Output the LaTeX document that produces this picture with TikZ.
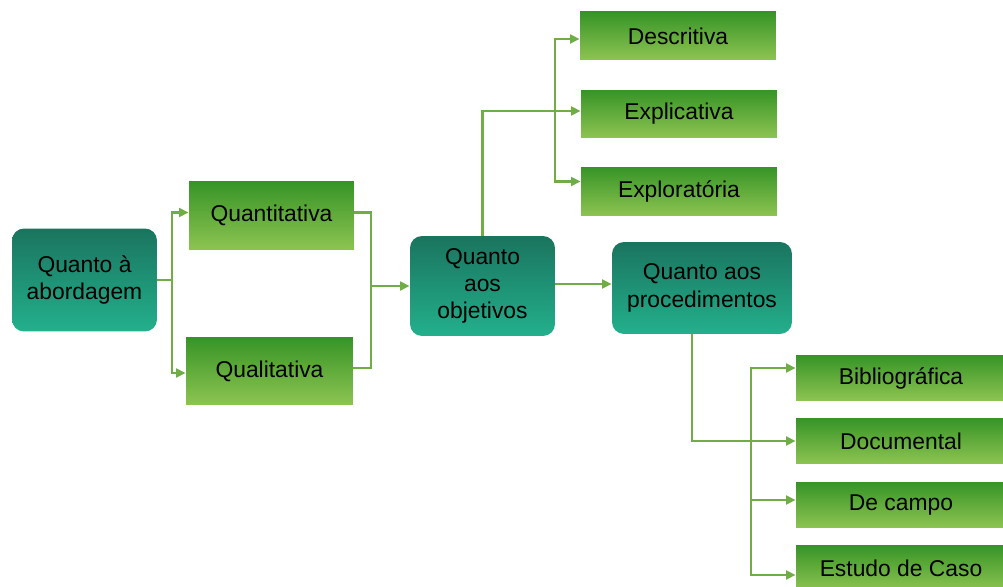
\documentclass[tikz,border=0pt]{standalone}
\usepackage{fontspec}
\setmainfont{Liberation Sans}
\usepackage{xcolor}
\usetikzlibrary{arrows.meta,positioning,calc}

\definecolor{tealtop}{RGB}{26,116,94}
\definecolor{tealbot}{RGB}{35,176,140}
\definecolor{greentop}{RGB}{54,148,38}
\definecolor{greenbot}{RGB}{142,196,82}
\definecolor{linkgreen}{RGB}{112,173,71}

\tikzset{
    groupbox/.style={rounded corners=0.24cm, top color=tealtop, bottom color=tealbot,
        align=center, inner sep=2pt, font=\fontsize{13}{15.5}\selectfont},
    itembox/.style={top color=greentop, bottom color=greenbot,
        align=center, font=\fontsize{13}{15.5}\selectfont},
    link/.style={draw=linkgreen, line width=1.6pt},
    linkarrow/.style={link, -{Triangle[length=5.5pt,width=5pt]}}
}

\begin{document}
\begin{tikzpicture}[x=0.02cm,y=-0.02cm]
            \useasboundingbox (0,0) rectangle (1003,587);

            % Group boxes
            \node[groupbox,minimum width=2.9cm,minimum height=2.06cm] (abord) at (84.5,280) {Quanto à\\abordagem};
            \node[groupbox,minimum width=2.9cm,minimum height=2cm] (objet) at (482.5,286) {Quanto\\aos\\objetivos};
            \node[groupbox,minimum width=3.6cm,minimum height=1.84cm] (proced) at (702,288) {Quanto aos\\procedimentos};

            % Approach items
            \node[itembox,minimum width=3.3cm,minimum height=1.38cm] (quanti) at (271.5,215.5) {Quantitativa};
            \node[itembox,minimum width=3.34cm,minimum height=1.36cm] (quali) at (269.5,371) {Qualitativa};

            % Objective items
            \node[itembox,minimum width=3.92cm,minimum height=0.96cm] (descr) at (678,36) {Descritiva};
            \node[itembox,minimum width=3.92cm,minimum height=0.96cm] (expli) at (679,114) {Explicativa};
            \node[itembox,minimum width=3.92cm,minimum height=0.98cm] (explo) at (679,191.5) {Exploratória};

            % Procedure items
            \node[itembox,minimum width=4.2cm,minimum height=0.92cm] (biblio) at (901,378) {Bibliográfica};
            \node[itembox,minimum width=4.2cm,minimum height=0.92cm] (docum) at (901,441) {Documental};
            \node[itembox,minimum width=4.2cm,minimum height=0.92cm] (campo) at (901,505) {De campo};
            \node[itembox,minimum width=4.2cm,minimum height=0.92cm] (caso) at (901,568) {Estudo de Caso};

            % Junctions
            \coordinate (j1) at (172,280);
            \coordinate (j2) at (371,286);
            \coordinate (j3) at (555,111);
            \coordinate (j4) at (751,441);

            % Connectors from approach
            \draw[link] (abord.east) -- (j1);
            \draw[linkarrow] (j1) |- ($(quanti.west)+(0,-3)$);
            \draw[linkarrow] (j1) |- ($(quali.west)+(0,2)$);
            \draw[link] ($(quanti.east)+(0,-3)$) -| (j2);
            \draw[link] ($(quali.east)+(0,-3)$) -| (j2);
            \draw[linkarrow] (j2) -- (objet.west);

            % Connectors from objectives
            \draw[link] (objet.north) |- (j3);
            \draw[linkarrow] (j3) |- ($(descr.west)+(0,3)$);
            \draw[linkarrow] (j3) -- ($(expli.west)+(0,-3)$);
            \draw[linkarrow] (j3) |- ($(explo.west)+(0,-10)$);
            \draw[linkarrow] ($(objet.east)+(0,-2)$) -- ($(proced.west)+(0,-4)$);

            % Connectors from procedures
            \draw[link] ($(proced.south)+(-10,0)$) |- (j4);
            \draw[linkarrow] (j4) |- ($(biblio.west)+(0,-10)$);
            \draw[linkarrow] (j4) -- (docum.west);
            \draw[linkarrow] (j4) |- ($(campo.west)+(0,-5)$);
            \draw[linkarrow] (j4) |- ($(caso.west)+(0,7)$);
        \end{tikzpicture}
\end{document}
